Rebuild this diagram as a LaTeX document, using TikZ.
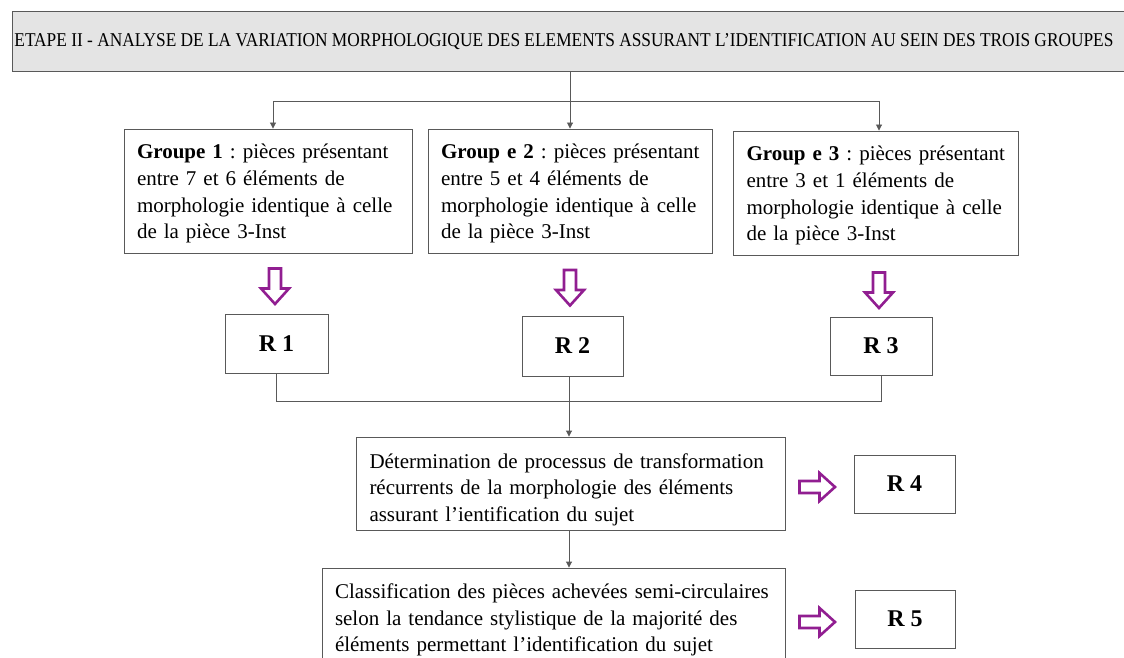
\documentclass[tikz,border=0pt]{standalone}
\usepackage{fontspec}
\setmainfont{Liberation Serif}
\usetikzlibrary{arrows.meta,calc}
\definecolor{arrpurple}{RGB}{145,30,145}
\definecolor{hdrfill}{RGB}{228,228,228}
\newcommand{\toplift}[1]{\rule{0pt}{#1}}
\tikzset{
  hdr/.style={draw=black!65, line width=0.9pt, fill=hdrfill, inner sep=0pt,
    minimum width=1130pt, minimum height=60pt},
  box/.style={draw=black!65, line width=0.9pt, fill=white, inner xsep=0pt, inner ysep=0pt,
    font=\fontsize{21}{26.7}\selectfont\frenchspacing, align=left},
  rbox/.style={draw=black!65, line width=0.9pt, fill=white, inner sep=0pt,
    font=\fontsize{24}{28}\selectfont\bfseries},
  conn/.style={draw=black!65, line width=0.9pt},
  arr/.style={conn, -{Triangle[length=6pt,width=6pt]}},
  bigarrow/.style={draw=arrpurple, line width=2.6pt, fill=white, line join=miter},
  downarr/.pic={\draw[bigarrow] (-6,0) -- (6,0) -- (6,20) -- (14,20) -- (0,35.5) -- (-14,20) -- (-6,20) -- cycle;},
  rightarr/.pic={\draw[bigarrow] (0,-6) -- (20,-6) -- (20,-14) -- (35.5,0) -- (20,14) -- (20,6) -- (0,6) -- cycle;}
}
\begin{document}
\begin{tikzpicture}[x=1pt,y=-1pt]
\clip (0,0) rectangle (1124,658);
\fill[white] (0,0) rectangle (1124,658);

\node[hdr, anchor=north west] (hd) at (12,11)
  {\makebox[1130pt][l]{\hspace*{2pt}\resizebox{1099pt}{13pt}{ETAPE II - ANALYSE DE LA VARIATION MORPHOLOGIQUE DES ELEMENTS ASSURANT L’IDENTIFICATION AU SEIN DES TROIS GROUPES}}};

\node[box, minimum width=288pt, minimum height=124pt, text width=262pt] (g1) at (268,191)
  {\mbox{\toplift{20pt}\textbf{Groupe 1} : pièces présentant}\\\mbox{entre 7 et 6 éléments de}\\\mbox{morphologie identique à celle}\\\mbox{de la pièce 3-Inst}};
\node[box, minimum width=284pt, minimum height=124pt, text width=258pt] (g2) at (570,191)
  {\mbox{\toplift{20pt}\textbf{Group e 2} : pièces présentant}\\\mbox{entre 5 et 4 éléments de}\\\mbox{morphologie identique à celle}\\\mbox{de la pièce 3-Inst}};
\node[box, minimum width=285pt, minimum height=124pt, text width=258pt] (g3) at (875.5,193)
  {\mbox{\toplift{20pt}\textbf{Group e 3} : pièces présentant}\\\mbox{entre 3 et 1 éléments de}\\\mbox{morphologie identique à celle}\\\mbox{de la pièce 3-Inst}};

\node[rbox, minimum width=103pt, minimum height=59pt] (r1) at (276.5,343.5) {R 1};
\node[rbox, minimum width=101pt, minimum height=60pt] (r2) at (572.5,346) {R 2};
\node[rbox, minimum width=102pt, minimum height=58pt] (r3) at (881,346) {R 3};

\node[box, minimum width=429pt, minimum height=93pt, text width=402pt] (b4) at (570.5,483.5)
  {\mbox{\toplift{27pt}Détermination de processus de transformation}\\\mbox{récurrents de la morphologie des éléments}\\\mbox{assurant l’ientification du sujet}};
\node[box, minimum width=463pt, minimum height=98pt, text width=437pt] (b5) at (553.5,617)
  {\mbox{\toplift{21pt}Classification des pièces achevées semi-circulaires}\\\mbox{selon la tendance stylistique de la majorité des}\\\mbox{éléments permettant l’identification du sujet}};

\node[rbox, minimum width=101pt, minimum height=58pt] (r4) at (904.5,484) {R 4};
\node[rbox, minimum width=100pt, minimum height=58pt] (r5) at (905,619) {R 5};

\pic at (275,268.5) {downarr};
\pic at (570,270) {downarr};
\pic at (879,272.5) {downarr};
\pic at (799.5,487) {rightarr};
\pic at (799.5,622) {rightarr};

\coordinate (j1) at (570,101);
\draw[arr] (hd.south -| g2.north) -- (g2.north);
\draw[arr] (j1) -| ([xshift=5pt]g1.north);
\draw[arr] (j1) -| ([xshift=3.5pt]g3.north);

\coordinate (j2) at (569,401);
\draw[conn] (r1.south) |- (j2);
\draw[conn] (r3.south) |- (j2);
\draw[conn] ([xshift=-3.5pt]r2.south) -- ([xshift=-3.5pt]r2.south |- j2);
\draw[arr] (j2) -- (j2 |- b4.north);
\draw[arr] (b4.south -| j2) -- (j2 |- b5.north);
\end{tikzpicture}
\end{document}
